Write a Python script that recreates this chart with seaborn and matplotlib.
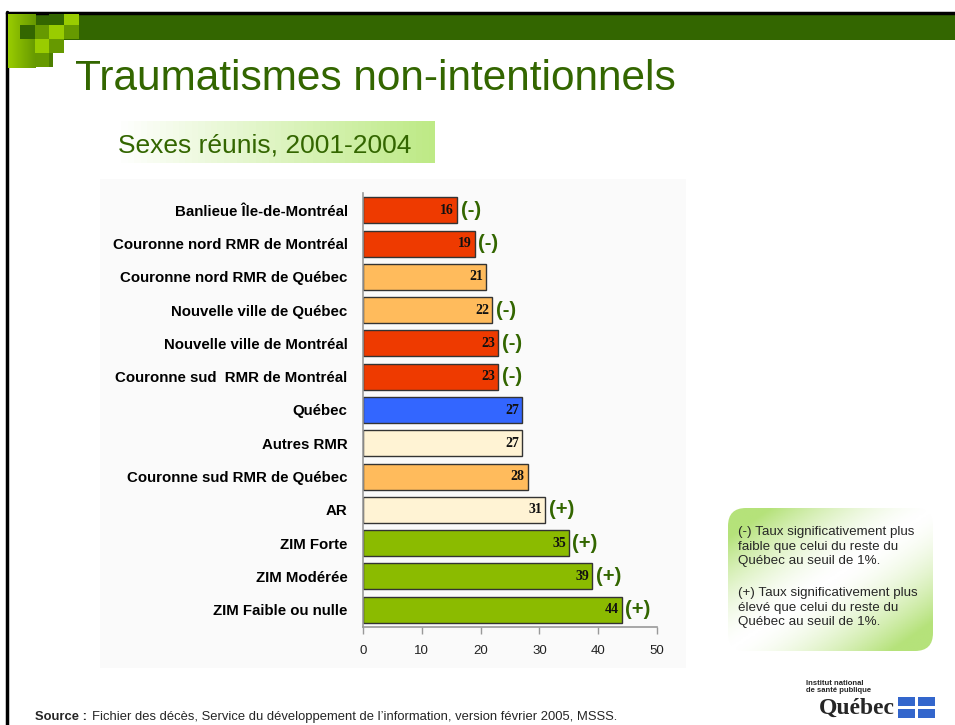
import numpy as np
import pandas as pd
import matplotlib.pyplot as plt
import seaborn as sns
from matplotlib.patches import Rectangle, FancyBboxPatch
from matplotlib.colors import LinearSegmentedColormap

# data
categories = ['Banlieue Île-de-Montréal', 'Couronne nord RMR de Montréal',
              'Couronne nord RMR de Québec', 'Nouvelle ville de Québec',
              'Nouvelle ville de Montréal', 'Couronne sud  RMR de Montréal',
              'Québec', 'Autres RMR', 'Couronne sud RMR de Québec', 'AR',
              'ZIM Forte', 'ZIM Modérée', 'ZIM Faible ou nulle']
rates = [16, 19, 21, 22, 23, 23, 27, 27, 28, 31, 35, 39, 44]
signif = ['(-)', '(-)', '', '(-)', '(-)', '(-)', '', '', '', '(+)', '(+)', '(+)', '(+)']
bar_colors = ['#EE3A00', '#EE3A00', '#FFBB5C', '#FFBB5C', '#EE3A00', '#EE3A00',
              '#3366FF', '#FFF3D4', '#FFBB5C', '#FFF3D4', '#8BBB00', '#8BBB00', '#8BBB00']
x_ticks = [0, 10, 20, 30, 40, 50]

DARK_GREEN = '#336600'
W, H = 955, 725

sns.set_theme(style='white')
plt.rcParams['font.family'] = ['Liberation Sans', 'DejaVu Sans']

fig = plt.figure(figsize=(W / 100, H / 100), dpi=100)

# slide decoration in pixel coordinates
bg = fig.add_axes([0, 0, 1, 1], zorder=0)
bg.set_xlim(0, W)
bg.set_ylim(H, 0)
bg.axis('off')

bg.plot([7, 7], [12, H], color='black', lw=2.5)
bg.plot([7, W], [13, 13], color='black', lw=2.5)
bg.add_patch(Rectangle((8, 14), W - 8, 26, color=DARK_GREEN, lw=0))

# top-left squares
grad = np.linspace(0, 1, 50).reshape(1, -1)
lime_cmap = LinearSegmentedColormap.from_list('lime', ['#99CC00', '#669900'])
bg.imshow(grad, cmap=lime_cmap, extent=(8, 35, 68, 14), aspect='auto', zorder=2)
squares = [(49, 14, DARK_GREEN), (64, 14, '#99CC00'),
           (20, 25, DARK_GREEN), (35, 25, '#669900'), (49, 25, '#99CC00'), (64, 25, '#669900'),
           (35, 39, '#99CC00'), (49, 39, '#669900'),
           (35, 53, '#669900')]
for sx, sy, sc in squares:
    bg.add_patch(Rectangle((sx, sy), 15, 14, color=sc, lw=0, zorder=3))
bg.add_patch(Rectangle((49, 53), 4, 14, color='#4d7f00', lw=0, zorder=3))

bg.text(75, 90, 'Traumatismes non-intentionnels', fontsize=30.5, color=DARK_GREEN,
        va='baseline', ha='left')

# subtitle box with gradient
sub_cmap = LinearSegmentedColormap.from_list('sub', ['#FFFFFF', '#BEEA86'])
bg.imshow(grad, cmap=sub_cmap, extent=(115, 434, 163, 121), aspect='auto', zorder=2)
bg.text(118, 152, 'Sexes réunis, 2001-2004', fontsize=19, color=DARK_GREEN,
        va='baseline', ha='left', zorder=3)

# chart panel
bg.add_patch(Rectangle((100, 179), 586, 489, color='#FAFAFA', lw=0, zorder=1))

# note box with diagonal gradient
u, v = np.meshgrid(np.linspace(0, 1, 120), np.linspace(0, 1, 90))
wgt = np.clip(np.abs(u + v - 1) * 1.25, 0, 1) ** 1.6
note_cmap = LinearSegmentedColormap.from_list('note', ['#FFFFFF', '#B5E27A'])
note = bg.imshow(wgt, cmap=note_cmap, extent=(728, 933, 651, 508), aspect='auto', zorder=2)
clip = FancyBboxPatch((728, 508), 205, 143, boxstyle='round,pad=0,rounding_size=18',
                      transform=bg.transData, facecolor='none', edgecolor='none')
bg.add_patch(clip)
note.set_clip_path(clip)
bg.text(738, 526, '(-) Taux significativement plus\nfaible que celui du reste du\nQuébec au seuil de 1%.',
        fontsize=9.6, va='top', ha='left', linespacing=1.3, zorder=3)
bg.text(738, 587, '(+) Taux significativement plus\nélevé que celui du reste du\nQuébec au seuil de 1%.',
        fontsize=9.6, va='top', ha='left', linespacing=1.3, zorder=3)

# source line
bg.text(35, 717, 'Source :', fontsize=9.4, fontweight='bold', va='center', ha='left')
bg.text(92, 717, 'Fichier des décès, Service du développement de l\u2019information, version février 2005, MSSS.',
        fontsize=9.4, va='center', ha='left')

# logo
bg.text(806, 687, 'Institut national\nde santé publique', fontsize=5.5, fontweight='bold',
        va='center', ha='left', linespacing=0.95)
bg.text(895, 708, 'Québec', fontsize=17, fontweight='bold', family='Liberation Serif',
        va='center', ha='right')
for qx, qy in [(898, 697), (918, 697), (898, 709), (918, 709)]:
    bg.add_patch(Rectangle((qx, qy), 17, 9, color='#3366CC', lw=0))

# bar chart
ax = fig.add_axes([363 / W, 1 - 627 / H, (657 - 363) / W, (627 - 193) / H], zorder=2)
ax.set_facecolor('none')
df = pd.DataFrame({'region': categories, 'rate': rates})
sns.barplot(data=df, x='rate', y='region', hue='region', palette=bar_colors, saturation=1,
            legend=False, orient='h', width=0.78, edgecolor='#333333', linewidth=1.0, ax=ax)

for i, (val, sg) in enumerate(zip(rates, signif)):
    ax.text(val - 0.5, i, str(val), ha='right', va='center', fontsize=10,
            fontweight='bold', family='Liberation Serif', color='#111111')
    if sg:
        ax.text(val + 0.6, i, sg, ha='left', va='center', fontsize=14.5,
                fontweight='bold', color=DARK_GREEN)

ax.set_xlim(0, 50)
ax.set_ylim(12.52, -0.52)
ax.set_xticks(x_ticks)
ax.set_xlabel('')
ax.set_ylabel('')
for side in ['top', 'right']:
    ax.spines[side].set_visible(False)
for side in ['left', 'bottom']:
    ax.spines[side].set_color('#999999')
    ax.spines[side].set_linewidth(1.2)
ax.tick_params(axis='x', direction='out', length=5, color='#999999', width=1,
               labelsize=9.5, labelcolor='#222222', pad=8, bottom=True)
ax.tick_params(axis='y', length=0, pad=11, labelsize=10.8, labelcolor='black')
for lbl in ax.get_yticklabels():
    lbl.set_fontweight('bold')

fig.savefig('out.png', dpi=100)
